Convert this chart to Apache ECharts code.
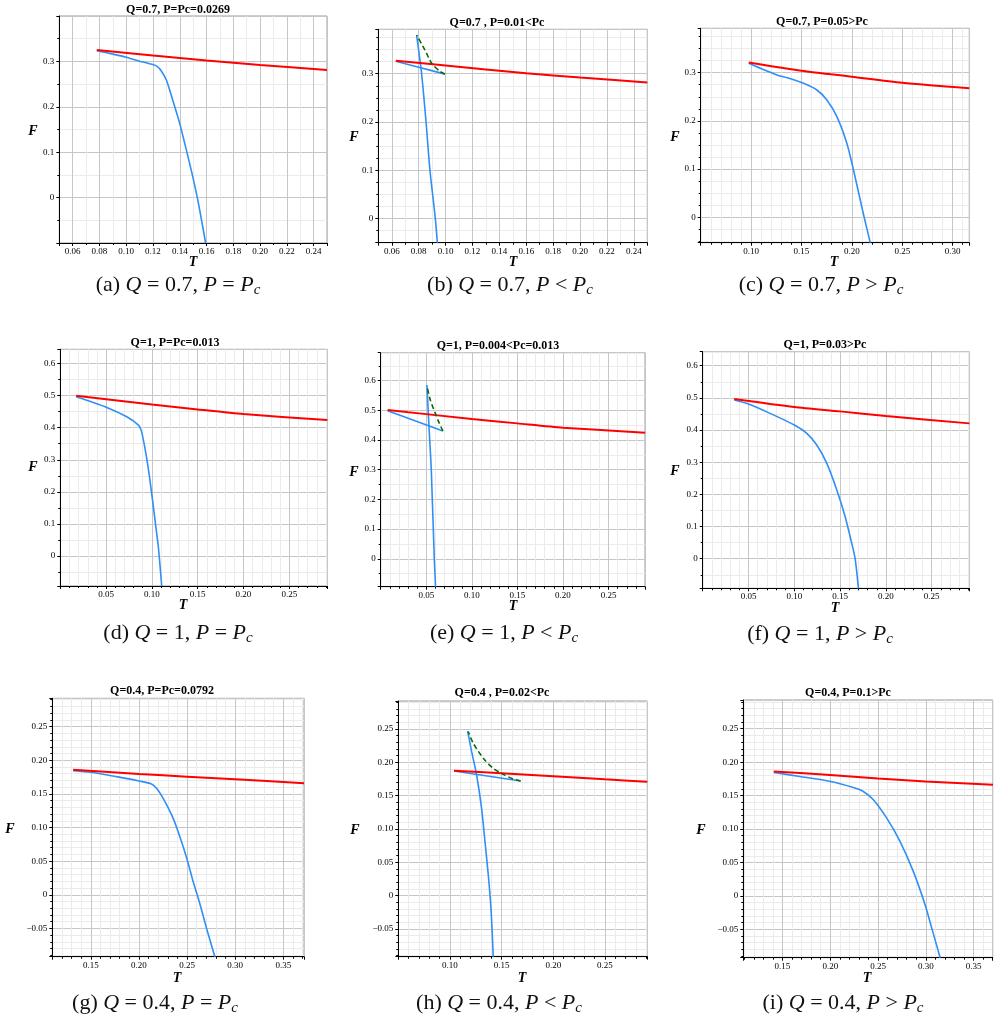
<!DOCTYPE html>
<html>
<head>
<meta charset="utf-8">
<script src="https://cdn.jsdelivr.net/npm/echarts@6/dist/echarts.min.js"></script>
<style>
html,body{margin:0;padding:0;background:#fff}
#main{width:1000px;height:1019px}
</style>
</head>
<body>
<div id="main"></div>
<script>
// 每条曲线的 (T, F) 数据，按图 (a)~(i)
var redA = [[0.078,0.325],[0.12,0.313],[0.16,0.302],[0.2,0.292],[0.25,0.281]];
var blueA = [[0.078,0.3237],[0.09,0.316],[0.1,0.309],[0.11,0.3005],[0.118,0.2945],[0.1228,0.2895],[0.1262,0.279],[0.13,0.259],[0.135,0.212],[0.14,0.163],[0.1445,0.11],[0.149,0.055],[0.1531,0.0],[0.1563,-0.05],[0.1593,-0.1]];

var redB = [[0.063,0.327],[0.1,0.317],[0.16,0.301],[0.2,0.292],[0.25,0.282]];
var blueB1 = [[0.063,0.326],[0.08,0.3135],[0.0996,0.2992]];
var greenB = [[0.0996,0.2992],[0.0958,0.3048],[0.0897,0.3214],[0.0847,0.349],[0.0785,0.380]];
var blueB2 = [[0.0785,0.380],[0.0822,0.3],[0.0855,0.2],[0.0884,0.1],[0.0924,0],[0.0939,-0.05]];

var redC = [[0.0977,0.321],[0.15,0.304],[0.2,0.2915],[0.25,0.279],[0.3165,0.2675]];
var blueC = [[0.0977,0.3193],[0.1257,0.2951],[0.14,0.287],[0.1521,0.2778],[0.1653,0.264],[0.1752,0.2433],[0.1851,0.2087],[0.195,0.1534],[0.2016,0.0981],[0.2083,0.0359],[0.2122,0.0],[0.2182,-0.0525]];

var redD = [[0.0173,0.4993],[0.1,0.4723],[0.15,0.4568],[0.2,0.4422],[0.2915,0.4235]];
var blueD = [[0.0173,0.4962],[0.0507,0.463],[0.0725,0.434],[0.0853,0.408],[0.0885,0.39],[0.0925,0.335],[0.0965,0.265],[0.1,0.19],[0.1035,0.11],[0.107,0.03],[0.1107,-0.093]];

var redE = [[0.0076,0.5011],[0.1,0.4708],[0.15,0.456],[0.2,0.4416],[0.2902,0.4247]];
var blueE1 = [[0.0076,0.4989],[0.0683,0.4303]];
var greenE = [[0.0683,0.4303],[0.0635,0.4618],[0.0599,0.49],[0.0544,0.535],[0.0507,0.582]];
var blueE2 = [[0.0507,0.5854],[0.0529,0.45],[0.0555,0.3],[0.0588,0],[0.0602,-0.0944]];

var redF = [[0.0344,0.4964],[0.1,0.4715],[0.15,0.458],[0.2,0.4435],[0.2911,0.4207]];
var blueF = [[0.0344,0.4933],[0.05,0.4808],[0.0736,0.4518],[0.1,0.4155],[0.1136,0.3896],[0.1245,0.3534],[0.1355,0.2964],[0.1464,0.2135],[0.1555,0.1306],[0.1627,0.0477],[0.1664,0],[0.17,-0.0922]];

var redG = [[0.1316,0.186],[0.2,0.1796],[0.25,0.1756],[0.3,0.1717],[0.3715,0.1657]];
var blueG = [[0.1316,0.1845],[0.15,0.1821],[0.1767,0.1756],[0.2,0.1692],[0.2131,0.1647],[0.2183,0.1583],[0.2252,0.1434],[0.2356,0.1136],[0.2443,0.0789],[0.2502,0.0517],[0.2564,0.0194],[0.2627,-0.0103],[0.2703,-0.05],[0.2789,-0.0921]];

var redH = [[0.1039,0.1875],[0.15,0.1835],[0.2,0.179],[0.25,0.1745],[0.291,0.171]];
var blueH1 = [[0.1039,0.187],[0.1684,0.172]];
var greenH = [[0.1684,0.172],[0.1613,0.175],[0.1516,0.182],[0.1419,0.191],[0.1323,0.206],[0.1226,0.2285],[0.1177,0.246]];
var blueH2 = [[0.1171,0.247],[0.121,0.216],[0.1258,0.181],[0.1306,0.131],[0.1339,0.081],[0.1371,0.031],[0.1397,-0.019],[0.1419,-0.0915]];

var redI = [[0.1409,0.1861],[0.2,0.1808],[0.25,0.1756],[0.3,0.171],[0.3703,0.1661]];
var blueI = [[0.1409,0.1846],[0.1682,0.1786],[0.2003,0.1711],[0.2241,0.1621],[0.2346,0.1561],[0.2451,0.1437],[0.2591,0.1162],[0.2731,0.0813],[0.287,0.0363],[0.2993,-0.0136],[0.3063,-0.0486],[0.315,-0.0925]];

// 标题与图注
var titles = ['Q=0.7, P=Pc=0.0269','Q=0.7 , P=0.01<Pc','Q=0.7, P=0.05>Pc',
              'Q=1, P=Pc=0.013','Q=1, P=0.004<Pc=0.013','Q=1, P=0.03>Pc',
              'Q=0.4, P=Pc=0.0792','Q=0.4 , P=0.02<Pc','Q=0.4, P=0.1>Pc'];
var capLetters = ['a','b','c','d','e','f','g','h','i'];
var capQ = ['0.7','0.7','0.7','1','1','1','0.4','0.4','0.4'];
var capRel = ['=','<','>','=','<','>','=','<','>'];

// 坐标轴范围: [min, max, 主刻度间隔, 小数位, 次刻度分段]
var xRanges = [[0.05,0.25,0.02,2,2],[0.05,0.25,0.02,2,2],[0.05,0.3165,0.05,2,5],
               [0,0.2915,0.05,2,5],[0,0.290,0.05,2,5],[0,0.291,0.05,2,5],
               [0.11,0.3715,0.05,2,5],[0.05,0.291,0.05,2,5],[0.109,0.370,0.05,2,5]];
var yRanges = [[-0.1,0.4,0.1,1,2],[-0.05,0.392,0.1,1,4],[-0.0527,0.392,0.1,1,4],
               [-0.093,0.644,0.1,1,2],[-0.094,0.694,0.1,1,2],[-0.092,0.6435,0.1,1,2],
               [-0.092,0.292,0.05,2,5],[-0.0915,0.292,0.05,2,5],[-0.0925,0.293,0.05,2,5]];

var RED = '#ff0000', BLUE = '#2f8ff5', GREEN = '#0a6b0a';
var curves = [
	[[blueA,BLUE],[redA,RED]],
	[[blueB1,BLUE],[blueB2,BLUE],[redB,RED],[greenB,GREEN,1]],
	[[blueC,BLUE],[redC,RED]],
	[[blueD,BLUE],[redD,RED]],
	[[blueE1,BLUE],[blueE2,BLUE],[redE,RED],[greenE,GREEN,1]],
	[[blueF,BLUE],[redF,RED]],
	[[blueG,BLUE],[redG,RED]],
	[[blueH1,BLUE],[blueH2,BLUE],[redH,RED],[greenH,GREEN,1]],
	[[blueI,BLUE],[redI,RED]]
];

// 版面位置 (像素)
var boxes = [[59.3,16,327,243],[378.3,29.3,647.3,242.7],[700.7,28.3,969.3,242.7],
             [60.3,349.3,327.3,586],[380.7,352.7,645,586.7],[702.7,351.7,969.3,588.3],
             [52.3,698.3,304,956.7],[398.3,701,647.3,956.7],[743.3,700,992.7,957.7]];
var titlePos = [[178,10],[497,23],[822,22],[175,343],[498,346],[825,345],[162,691],[502,693],[848,693]];
var tPos = [[193,262],[513,262],[834,262],[183,605],[513,606],[835,608],[177,978],[522,978],[867,978]];
var fPos = [[33,131],[354,137],[675,137],[33,467],[354,472],[675,471],[10,829],[355,830],[701,830]];
var capPos = [[178,285],[510,285],[821,285],[178,633],[504,633],[820,634],[155,1003],[499,1003],[843,1003]];

var serif = '"Liberation Serif", "Times New Roman", serif';

function fmt(dec) {
	return function (v) {
		if (Math.abs(v) < 1e-9) return '0';
		var s = Math.abs(v).toFixed(dec);
		return v < 0 ? '\u2212' + s : s;
	};
}

function makeAxis(r, i, margin) {
	return {
		type: 'value', gridIndex: i, min: r[0], max: r[1],
		minInterval: r[2], maxInterval: r[2],
		splitNumber: Math.round((r[1] - r[0]) / r[2]),
		axisLine: {show: true, onZero: false, lineStyle: {color: '#000', width: 1}},
		axisTick: {show: true, length: 3, lineStyle: {color: '#000'}},
		minorTick: {show: true, splitNumber: r[4], length: 2, lineStyle: {color: '#000'}},
		splitLine: {show: true, lineStyle: {color: '#c6c6c6', width: 1}},
		minorSplitLine: {show: true, lineStyle: {color: '#ebebeb', width: 1}},
		axisLabel: {showMinLabel: false, showMaxLabel: false, formatter: fmt(r[3]),
			fontFamily: serif, fontSize: 9, color: '#000', margin: margin}
	};
}

var grids = [], xAxes = [], yAxes = [], series = [], texts = [];
for (var i = 0; i < 9; i++) {
	var b = boxes[i];
	grids.push({left: b[0], top: b[1], width: b[2] - b[0], height: b[3] - b[1],
		show: true, borderColor: '#9a9a9a', borderWidth: 1, backgroundColor: '#fff'});
	xAxes.push(makeAxis(xRanges[i], i, 4));
	yAxes.push(makeAxis(yRanges[i], i, 5));
	curves[i].forEach(function (c) {
		series.push({
			type: 'line', xAxisIndex: i, yAxisIndex: i, data: c[0],
			symbol: 'none', smooth: 0.25, silent: true, animation: false,
			lineStyle: {color: c[1], width: c[1] === RED ? 2 : 1.6, type: c[2] ? [5, 3] : 'solid'},
			z: c[1] === GREEN ? 4 : 3
		});
	});
	texts.push({type: 'text', x: titlePos[i][0], y: titlePos[i][1],
		style: {text: titles[i], font: 'bold 12px ' + serif, fill: '#000', align: 'center', verticalAlign: 'middle'}});
	texts.push({type: 'text', x: tPos[i][0], y: tPos[i][1],
		style: {text: 'T', font: 'italic bold 14px ' + serif, fill: '#000', align: 'center', verticalAlign: 'middle'}});
	texts.push({type: 'text', x: fPos[i][0], y: fPos[i][1],
		style: {text: 'F', font: 'italic bold 14px ' + serif, fill: '#000', align: 'center', verticalAlign: 'middle'}});
	texts.push({type: 'text', x: capPos[i][0], y: capPos[i][1],
		style: {
			text: '{n|(' + capLetters[i] + ') }{i|Q}{n| = ' + capQ[i] + ', }{i|P}{n| ' + capRel[i] + ' }{i|P}{s|c}',
			align: 'center', verticalAlign: 'middle', fill: '#111',
			rich: {
				n: {fontFamily: serif, fontSize: 22, fill: '#111'},
				i: {fontFamily: serif, fontSize: 22, fontStyle: 'italic', fill: '#111'},
				s: {fontFamily: serif, fontSize: 15, fontStyle: 'italic', fill: '#111', padding: [11, 0, 0, 0]}
			}
		}});
}

var chart = echarts.init(document.getElementById('main'));
chart.setOption({
	animation: false,
	backgroundColor: '#fff',
	grid: grids,
	xAxis: xAxes,
	yAxis: yAxes,
	series: series,
	graphic: {elements: texts}
});
</script>
</body>
</html>
